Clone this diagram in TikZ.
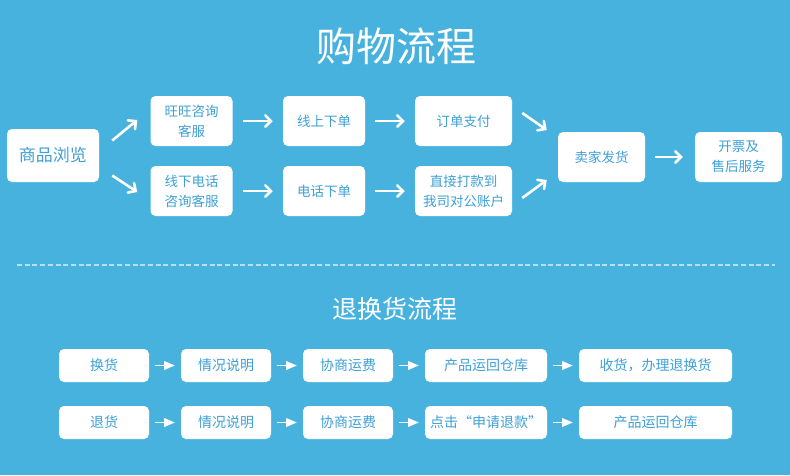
\documentclass[tikz,border=0pt]{standalone}
\usepackage{fontspec}
\setmainfont{Noto Sans CJK SC}
\usepackage{tikz}
\usetikzlibrary{arrows,positioning,shapes}
\definecolor{bgblue}{RGB}{72,178,222}
\definecolor{txtblue}{RGB}{62,160,214}
\tikzset{every picture/.style={line width=0.5pt}}
\tikzstyle{box}=[rectangle,rounded corners=5pt,fill=white,text=txtblue,align=center,inner sep=0pt,font=\fontsize{13.5}{20}\selectfont]
\tikzstyle{wbox}=[box,minimum width=82pt,minimum height=50pt]
\tikzstyle{rbox}=[box,minimum height=33pt,font=\fontsize{14}{17}\selectfont]

\begin{document}
\begin{tikzpicture}[x=1pt,y=-1pt]
\fill[bgblue] (0,0) rectangle (790,475);
\useasboundingbox (0,0) rectangle (790,475);
\node[text=white,font=\fontsize{40}{44}\selectfont] (T1) at (396,46) {购物流程};
\node[text=white,font=\fontsize{25}{28}\selectfont] (T2) at (395,309) {退换货流程};
% shopping flow
\node[box,minimum width=92pt,minimum height=53pt,font=\fontsize{17}{20}\selectfont] (A) at (53,155.5) {商品浏览};
\node[wbox] (B1) at (191.5,121) {旺旺咨询\\客服};
\node[wbox] (B2) at (191.5,191) {线下电话\\咨询客服};
\node[wbox] (C1) at (324,121) {线上下单};
\node[wbox] (C2) at (324,191) {电话下单};
\node[wbox,minimum width=97pt] (D1) at (463.5,121) {订单支付};
\node[wbox,minimum width=97pt] (D2) at (463.5,191) {直接打款到\\我司对公账户};
\node[wbox,minimum width=87pt] (E) at (601.5,157) {卖家发货};
\node[wbox,minimum width=87pt] (F) at (738.5,157) {开票及\\售后服务};
\path[->,color=white,line width=2.6pt,>=angle 90]
([shift={(13,-15)}]A.east) edge ([shift={(-13,-1)}]B1.west)
([shift={(13,20)}]A.east) edge ([shift={(-13,1)}]B2.west)
(B1) edge [shorten <=10pt,shorten >=10pt] (C1)
(B2) edge [shorten <=10pt,shorten >=10pt] (C2)
(C1) edge [shorten <=10pt,shorten >=10pt] (D1)
(C2) edge [shorten <=10pt,shorten >=10pt] (D2)
([shift={(10,-8)}]D1.east) edge ([shift={(-11,-27)}]E.west)
([shift={(10,7)}]D2.east) edge ([shift={(-11,23)}]E.west)
(E) edge [shorten <=10pt,shorten >=12pt] (F);
\draw[white,opacity=0.6,line width=1.5pt,dash pattern=on 5pt off 2.7pt] (17,265) -- (775,265);
% return flow
\node[rbox,minimum width=90pt] (G1) at (104,365.5) {换货};
\node[rbox,minimum width=90pt] (H1) at (226,365.5) {情况说明};
\node[rbox,minimum width=90pt] (I1) at (348,365.5) {协商运费};
\node[rbox,minimum width=122pt] (J1) at (486,365.5) {产品运回仓库};
\node[rbox,minimum width=153pt] (K1) at (655.5,365.5) {收货，办理退换货};
\node[rbox,minimum width=90pt] (G2) at (104,422.5) {退货};
\node[rbox,minimum width=90pt] (H2) at (226,422.5) {情况说明};
\node[rbox,minimum width=90pt] (I2) at (348,422.5) {协商运费};
\node[rbox,minimum width=122pt] (J2) at (486,422.5) {点击“申请退款”};
\node[rbox,minimum width=153pt] (K2) at (655.5,422.5) {产品运回仓库};
\path[->,color=white,line width=1.5pt,>=triangle 45,shorten <=6pt,shorten >=6pt]
(G1) edge (H1) (H1) edge (I1) (I1) edge (J1) (J1) edge (K1)
(G2) edge (H2) (H2) edge (I2) (I2) edge (J2) (J2) edge (K2);
\end{tikzpicture}
\end{document}
